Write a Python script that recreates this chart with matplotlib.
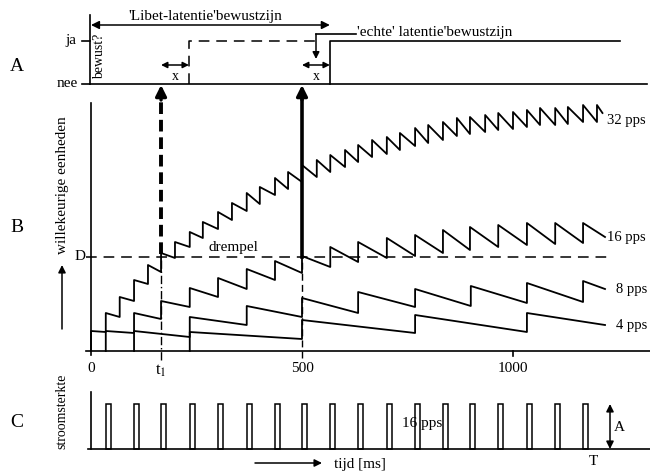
import matplotlib
matplotlib.use("Agg")
import matplotlib.pyplot as plt

# ---- data: time in ms, level in arbitrary units (px above baseline of B) ----
t_32 = [0, 35, 68, 102, 135, 166, 199, 234, 265, 301, 334, 369, 400, 436, 467, 500,
        535, 567, 602, 633, 666, 701, 732, 768, 799, 834, 867, 898, 934, 965, 1000,
        1033, 1064, 1100, 1130, 1166, 1199]
lo_32 = [0, 19, 34, 50, 67, 79, 93, 104, 113, 122, 131, 140, 147, 156, 162, 169,
         174, 179, 184, 189, 194, 197, 201, 205, 208, 211, 215, 217, 219, 221, 222,
         224, 226, 226, 227, 229, 229]
hi_32 = [20, 38, 54, 71, 86, 98, 109, 119, 129, 139, 148, 158, 164, 173, 179, 186,
         191, 196, 201, 206, 211, 214, 218, 223, 226, 229, 233, 234, 236, 238, 239,
         241, 243, 243, 244, 246, 246]
end_32 = (1212, 238)

t_16 = [35, 102, 166, 234, 301, 369, 436, 500, 567, 633, 701, 768, 834, 898, 965,
        1033, 1100, 1166]
lo_16 = [0, 18, 32, 44, 54, 62, 71, 78, 84, 89, 93, 95, 98, 101, 104, 106, 107, 108]
hi_16 = [20, 38, 50, 63, 73, 82, 90, 95, 104, 109, 113, 116, 121, 124, 126, 128, 128, 128]
end_16 = (1218, 114)

t_8 = [102, 234, 369, 500, 633, 768, 900, 1033, 1166]
lo_8 = [0, 14, 26, 34, 38, 44, 45, 48, 49]
hi_8 = [20, 34, 45, 53, 59, 62, 65, 68, 70]
end_8 = (1218, 62)

t_4 = [234, 500, 768, 1033]
lo_4 = [0, 12, 18, 19]
hi_4 = [19, 31, 36, 38]
end_4 = (1218, 26)

D = 94.5          # drempel
t1 = 166          # 32 pps reaches D
x_delay = 66      # x
pulse_t = t_16    # stimulus pulses, 16 pps
pulse_w = 12
pulse_h = 45

# panel offsets (same units)
NEE, JA = 267, 310
C0 = -98


def P(xp, yp):
    # pixel position -> data coords (layout only)
    return ((xp - 91) / 0.422, 351 - yp)


def saw(t, lo, hi, end):
    xs, ys = [], []
    for a, b, c in zip(t, lo, hi):
        xs += [a, a]
        ys += [b, c]
    xs.append(end[0])
    ys.append(end[1])
    return xs, ys


plt.rcParams['font.family'] = ['Liberation Serif', 'DejaVu Serif']
plt.rcParams['mathtext.fontset'] = 'stix'

fig = plt.figure(figsize=(6.5, 4.73), dpi=100)
ax = fig.add_axes([0, 0, 1, 1])
ax.set_xlim(P(0, 0)[0], P(650, 0)[0])
ax.set_ylim(P(0, 473)[1], P(0, 0)[1])
ax.axis('off')

k = dict(color='black', lw=1.2)
fs = 10

# ---------------- B ----------------
ax.plot([0, 0], [-4, P(0, 103)[1]], **k)
ax.plot([P(86, 0)[0], P(650, 0)[0]], [0, 0], **k)
ax.plot([1000, 1000], [0, -5], **k)
ax.plot([P(86, 0)[0], P(610, 0)[0]], [D, D], color='black', lw=1.1,
        dashes=(7, 4.5))

for t, lo, hi, end, lab, ly in [(t_32, lo_32, hi_32, end_32, '32 pps', 121),
                                (t_16, lo_16, hi_16, end_16, '16 pps', 238),
                                (t_8, lo_8, hi_8, end_8, '8 pps', 289),
                                (t_4, lo_4, hi_4, end_4, '4 pps', 325)]:
    xs, ys = saw(t, lo, hi, end)
    ax.plot(xs, ys, color='black', lw=1.3)
    ax.text(P(607, 0)[0] if lab.startswith(('32', '16')) else P(616, 0)[0],
            P(0, ly)[1], lab, fontsize=fs + 0.5, va='center', ha='left')

# verticals at t1 and 500
ax.plot([t1, t1], [P(0, 360)[1], D], color='black', lw=1.0, dashes=(6, 2, 1, 2))
ax.plot([500, 500], [P(0, 358)[1], D], color='black', lw=1.0, dashes=(5, 3))
ax.plot([t1, t1], [D + 2, NEE - 14], color='black', lw=2.8, dashes=(3.0, 1.5))
ax.plot([500, 500], [D, NEE - 14], color='black', lw=2.6)
for xx in (t1, 500):
    ax.annotate('', xy=(xx, NEE - 1), xytext=(xx, NEE - 16),
                arrowprops=dict(arrowstyle='-|>', color='black', lw=2.4,
                                mutation_scale=16, shrinkA=0, shrinkB=0))

ax.text(*P(80, 257), 'D', fontsize=fs + 1, ha='center', va='center')
ax.text(*P(233, 248), 'drempel', fontsize=fs + 1, ha='center', va='center')
ax.text(*P(62, 185), 'willekeurige eenheden', fontsize=fs + 1, rotation=90,
        ha='center', va='center')
ax.annotate('', xy=P(62, 265), xytext=P(62, 329),
            arrowprops=dict(arrowstyle='-|>', color='black', lw=1.1,
                            mutation_scale=11, shrinkA=0, shrinkB=0))
ax.text(*P(17, 227), 'B', fontsize=14, ha='center', va='center')

ax.text(0, P(0, 368)[1], '0', fontsize=fs + 1, ha='center', va='center')
ax.text(t1, P(0, 371)[1], '$\\mathregular{t}_1$', fontsize=fs + 2, ha='center', va='center')
ax.text(500, P(0, 368)[1], '500', fontsize=fs + 1, ha='center', va='center')
ax.text(1000, P(0, 368)[1], '1000', fontsize=fs + 1, ha='center', va='center')

# ---------------- A ----------------
ax.plot([P(90, 0)[0]] * 2, [NEE, P(0, 15)[1]], **k)
ax.plot([P(90, 0)[0], P(647, 0)[0]], [NEE, NEE], **k)
for yy in (NEE, JA):
    ax.plot([P(82, 0)[0], P(90, 0)[0]], [yy, yy], **k)
ax.text(P(76, 0)[0], JA, 'ja', fontsize=fs + 1, ha='right', va='center')
ax.text(P(78, 0)[0], NEE, 'nee', fontsize=fs + 1, ha='right', va='center')
ax.text(*P(17, 67), 'A', fontsize=14, ha='center', va='center')
ax.text(*P(100, 56), 'bewust?', fontsize=fs, rotation=90, ha='center', va='center')

# Libet awareness (dashed) and 'echte' awareness (solid)
libet_on = t1 + x_delay
real_on = 500 + x_delay
ax.plot([libet_on, libet_on, P(316, 0)[0]], [NEE, JA, JA], color='black',
        lw=1.1, dashes=(7, 4.5))
ax.plot([real_on, real_on, P(620, 0)[0]], [NEE, JA, JA], **k)

ax.annotate('', xy=(0, P(0, 25)[1]), xytext=(real_on, P(0, 25)[1]),
            arrowprops=dict(arrowstyle='<|-|>', color='black', lw=1.1,
                            mutation_scale=12, shrinkA=0, shrinkB=0))
ax.text(*P(205, 17), "'Libet-latentie'bewustzijn", fontsize=fs + 1,
        ha='center', va='center')

for xa in (t1, 500):
    ax.annotate('', xy=(xa, P(0, 65)[1]), xytext=(xa + x_delay, P(0, 65)[1]),
                arrowprops=dict(arrowstyle='<|-|>', color='black', lw=1.1,
                                mutation_scale=9, shrinkA=0, shrinkB=0))
    ax.text(xa + x_delay / 2, P(0, 77)[1], 'x', fontsize=fs, ha='center', va='center')

ax.plot([P(316, 0)[0], P(356, 0)[0]], [P(0, 34)[1]] * 2, **k)
ax.annotate('', xy=P(316, 59), xytext=P(316, 34),
            arrowprops=dict(arrowstyle='-|>', color='black', lw=1.1,
                            mutation_scale=10, shrinkA=0, shrinkB=0))
ax.text(*P(357, 33), "'echte' latentie'bewustzijn", fontsize=fs + 1,
        ha='left', va='center')

# ---------------- C ----------------
ax.plot([0, 0], [C0, P(0, 392)[1]], **k)
ax.plot([P(88, 0)[0], P(650, 0)[0]], [C0, C0], **k)
ax.bar(pulse_t, [pulse_h] * len(pulse_t), width=pulse_w, bottom=C0,
       align='edge', fill=False, edgecolor='black', lw=1.1)
ax.text(*P(422, 423), '16 pps', fontsize=fs + 1, ha='center', va='center')
ax.annotate('', xy=P(610, 404), xytext=P(610, 449),
            arrowprops=dict(arrowstyle='<|-|>', color='black', lw=1.1,
                            mutation_scale=11, shrinkA=0, shrinkB=0))
ax.text(*P(619, 427), 'A', fontsize=fs + 1, ha='center', va='center')
ax.text(*P(593, 461), 'T', fontsize=fs + 1, ha='center', va='center')
ax.annotate('', xy=P(322, 463), xytext=P(255, 463),
            arrowprops=dict(arrowstyle='-|>', color='black', lw=1.1,
                            mutation_scale=11, shrinkA=0, shrinkB=0))
ax.text(*P(334, 464), 'tijd [ms]', fontsize=fs + 1, ha='left', va='center')
ax.text(*P(62, 411), 'stroomsterkte', fontsize=fs, rotation=90,
        ha='center', va='center')
ax.text(*P(17, 422), 'C', fontsize=14, ha='center', va='center')

fig.savefig('out.png', dpi=100)
